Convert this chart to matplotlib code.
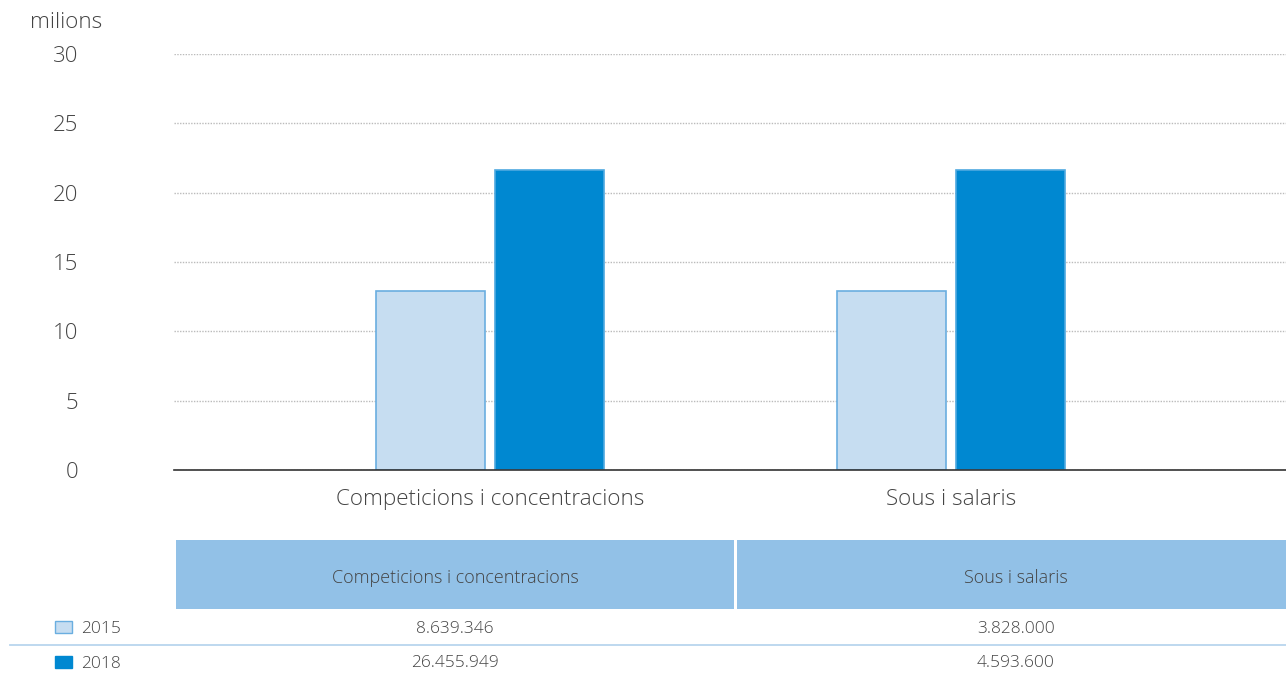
import matplotlib
matplotlib.use("Agg")
import matplotlib.pyplot as plt
from matplotlib.patches import Rectangle
import numpy as np

plt.rcParams['font.family'] = ['Open Sans', 'DejaVu Sans']
plt.rcParams['font.weight'] = 'light'

# data
categories = ["Competicions i concentracions", "Sous i salaris"]
years = ["2015", "2018"]
bar_2015 = [12.9, 12.9]     # heights as drawn (milions)
bar_2018 = [21.6, 21.6]
table_2015 = ["8.639.346", "3.828.000"]
table_2018 = ["26.455.949", "4.593.600"]
yticks = [0, 5, 10, 15, 20, 25, 30]

c_light, c_light_edge = "#C6DDF1", "#6AAEE0"
c_dark, c_dark_edge = "#0088D1", "#4FA9E0"
txt = "#444444"

W, H = 1286, 674
fig = plt.figure(figsize=(W / 100, H / 100), dpi=100)

# main axes: x 174..1286, y 54..470 (pixels)
ax = fig.add_axes([174 / W, 1 - 470 / H, (1286 - 174) / W, (470 - 54) / H])
x = np.arange(len(categories))
bw = 0.236
ax.bar(x - 0.129, bar_2015, bw, color=c_light, edgecolor=c_light_edge, linewidth=1.2, zorder=3)
ax.bar(x + 0.129, bar_2018, bw, color=c_dark, edgecolor=c_dark_edge, linewidth=1.2, zorder=3)
ax.set_xlim(-0.685, 1.727)
ax.set_ylim(0, 30)
ax.set_yticks(yticks)
ax.set_yticklabels([str(v) for v in yticks], fontsize=16, color=txt)
ax.set_xticks(x)
ax.set_xticklabels(categories, fontsize=16.2, color=txt)
ax.tick_params(axis='y', length=0, pad=69)
ax.tick_params(axis='x', length=0, pad=14)
for s in ["top", "right", "left"]:
    ax.spines[s].set_visible(False)
ax.spines["bottom"].set_color("#333333")
ax.spines["bottom"].set_linewidth(1.2)
ax.spines["bottom"].set_zorder(4)
ax.yaxis.grid(True, linestyle=(0, (1, 1)), color="#BBBBBB", linewidth=1)
ax.set_axisbelow(True)
fig.text(30 / W, 1 - 22 / H, "milions", fontsize=16.2, color=txt, ha="left", va="center")

# data table below
tab = fig.add_axes([0, 0, 1, 1])
tab.set_xlim(0, W)
tab.set_ylim(H, 0)
tab.axis("off")
cols = [(176, 734, 455), (737, 1286, 1016)]
for (x0, x1, cx), cat, v15, v18 in zip(cols, categories, table_2015, table_2018):
    tab.add_patch(Rectangle((x0, 540), x1 - x0, 69, facecolor="#92C1E7", edgecolor="none"))
    tab.text(cx, 578, cat, fontsize=13, color=txt, ha="center", va="center")
    tab.text(cx, 629, v15, fontsize=12.5, color=txt, ha="center", va="center")
    tab.text(cx, 663, v18, fontsize=12.5, color=txt, ha="center", va="center")
tab.plot([10, W], [645, 645], color="#B9D6EE", linewidth=1.3)
for yy, lab, fc, ec in [(627, years[0], c_light, c_light_edge), (662, years[1], c_dark, c_dark)]:
    tab.add_patch(Rectangle((55, yy - 6), 17, 12, facecolor=fc, edgecolor=ec, linewidth=1))
    tab.text(81, yy + 2, lab, fontsize=12.5, color=txt, ha="left", va="center")

fig.savefig("out.png", dpi=100)
